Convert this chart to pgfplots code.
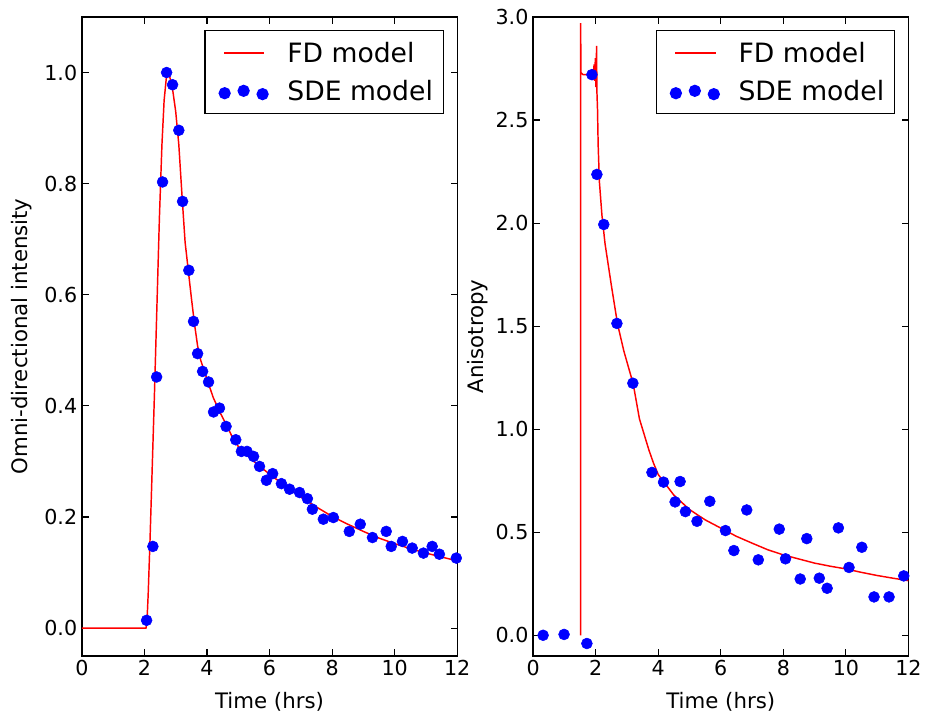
\documentclass[border=0pt]{standalone}
\usepackage{fontspec}
\setmainfont{DejaVu Sans}
\usepackage{pgfplots}
\pgfplotsset{compat=1.18}
\definecolor{mplred}{RGB}{255,0,0}
\definecolor{mplblue}{RGB}{0,0,255}
\pgfplotsset{
  mystyle/.style={
    scale only axis,
    width=282pt, height=480pt,
    xmin=0, xmax=12,
    xtick={0,2,...,12},
    axis line style={line width=1pt},
    tick align=inside,
    major tick length=5pt,
    tick style={line width=0.8pt, black},
    /pgf/number format/assume math mode=true,
    tick label style={font=\fontsize{15.5}{18}\selectfont},
    label style={font=\fontsize{16}{19}\selectfont},
    xlabel={Time (hrs)},
    xlabel style={at={(axis description cs:0.5,-0.072)}, anchor=center},
    yticklabel style={/pgf/number format/.cd, fixed, fixed zerofill, precision=1},
    legend style={at={(1,1)}, anchor=north east, xshift=-9.75pt, yshift=-9.75pt,
      draw=black, line width=1pt, font=\fontsize{20}{23.5}\selectfont,
      inner xsep=6pt, inner ysep=6.5pt, row sep=8pt,
      cells={anchor=west}},
  },
  fdline/.style={mplred, line width=1.1pt, mark=none,
    legend image code/.code={\path (0pt,0pt);
      \fill[mplred] (8.25pt,-0.55pt) rectangle (37.5pt,0.55pt);}},
  sdemark/.style={only marks, mark=*, mark size=4.1pt, mark options={draw=mplblue, fill=mplblue},
    legend image code/.code={\path (0pt,0pt);
      \fill[mplblue] (8.25pt,-1.5pt) circle (4.1pt);
      \fill[mplblue] (22.5pt,0.3pt) circle (4.1pt);
      \fill[mplblue] (36.75pt,-2.2pt) circle (4.1pt);}},
}
\begin{document}
\begin{tikzpicture}
\path (-61.5pt,-47.25pt) rectangle (633pt,492.75pt);
\begin{axis}[mystyle,
  ymin=-0.05, ymax=1.1,
  ytick={0,0.2,...,1.0},
  ylabel={Omni-directional intensity},
  ylabel style={at={(axis description cs:-0.16,0.5)}, anchor=center, rotate=0},
]
\addplot[fdline] coordinates {
(0,0) (2.05,0) (2.08,0.01) (2.12,0.06) (2.18,0.16) (2.25,0.29) (2.32,0.42)
(2.40,0.58) (2.48,0.74) (2.56,0.87) (2.63,0.95) (2.70,0.99) (2.76,1.0)
(2.82,0.99) (2.90,0.97) (3.00,0.93) (3.10,0.87) (3.20,0.78) (3.30,0.695)
(3.40,0.645) (3.50,0.595) (3.60,0.548) (3.70,0.508) (3.80,0.482) (3.90,0.465)
(4.00,0.448) (4.20,0.415) (4.40,0.39) (4.60,0.368) (4.80,0.345) (5.00,0.327)
(5.50,0.300) (6.00,0.277) (6.50,0.256) (7.00,0.236) (7.50,0.218) (8.00,0.201)
(8.50,0.187) (9.00,0.174) (9.50,0.162) (10.00,0.152) (10.50,0.143)
(11.00,0.135) (11.50,0.128) (12.00,0.121)
};
\addlegendentry{\hspace{12pt}FD model}
\addplot[sdemark] coordinates {
(2.07,0.014) (2.27,0.147) (2.39,0.452) (2.58,0.803) (2.71,1.000) (2.90,0.978)
(3.10,0.896) (3.22,0.768) (3.42,0.644) (3.57,0.552) (3.70,0.494) (3.86,0.462)
(4.05,0.443) (4.21,0.389) (4.40,0.396) (4.61,0.363) (4.92,0.339) (5.10,0.318)
(5.28,0.318) (5.49,0.309) (5.68,0.291) (5.90,0.266) (6.10,0.278) (6.38,0.260)
(6.64,0.250) (6.96,0.244) (7.21,0.233) (7.37,0.214) (7.72,0.196) (8.04,0.199)
(8.55,0.174) (8.90,0.187) (9.29,0.163) (9.73,0.174) (9.89,0.147) (10.25,0.156)
(10.56,0.144) (10.92,0.135) (11.20,0.147) (11.43,0.133) (11.97,0.126)
};
\addlegendentry{\hspace{12pt}SDE model}
\end{axis}
\begin{axis}[mystyle, xshift=339pt,
  ymin=-0.1, ymax=3.0,
  ytick={0,0.5,...,3.0},
  ylabel={Anisotropy},
  ylabel style={at={(axis description cs:-0.149,0.5)}, anchor=center, rotate=0},
]
\addplot[fdline] coordinates {
(1.52,0) (1.52,2.97) (1.53,2.73) (1.6,2.72) (1.7,2.72) (1.8,2.725) (1.85,2.73)
(1.9,2.74) (1.93,2.72) (1.95,2.77) (1.97,2.69) (1.99,2.80) (2.01,2.66)
(2.03,2.86) (2.04,2.64) (2.06,2.55) (2.08,2.38) (2.12,2.2) (2.2,2.04)
(2.3,1.9) (2.5,1.70) (2.7,1.51) (2.9,1.38) (3.2,1.22) (3.4,1.05) (3.7,0.90)
(3.85,0.835) (4.0,0.78) (4.2,0.74) (4.5,0.68) (5.0,0.61) (5.5,0.56)
(6.0,0.52) (6.5,0.48) (7.0,0.447) (7.5,0.415) (8.0,0.39) (8.5,0.37)
(9.0,0.35) (9.5,0.335) (10.0,0.322) (10.5,0.305) (11.0,0.29) (11.5,0.277)
(12.0,0.265)
};
\addlegendentry{\hspace{12pt}FD model}
\addplot[sdemark] coordinates {
(0.32,0.0) (0.99,0.004) (1.72,-0.04) (1.88,2.72) (2.04,2.236) (2.26,1.993)
(2.68,1.513) (3.19,1.223) (3.80,0.790) (4.17,0.743) (4.54,0.647) (4.70,0.746)
(4.87,0.600) (5.24,0.553) (5.65,0.650) (6.15,0.508) (6.42,0.411) (6.83,0.608)
(7.20,0.366) (7.87,0.515) (8.07,0.371) (8.54,0.273) (8.75,0.469) (9.15,0.277)
(9.40,0.228) (9.76,0.521) (10.10,0.329) (10.51,0.427) (10.90,0.186)
(11.38,0.186) (11.85,0.288)
};
\addlegendentry{\hspace{12pt}SDE model}
\end{axis}
\end{tikzpicture}
\end{document}
